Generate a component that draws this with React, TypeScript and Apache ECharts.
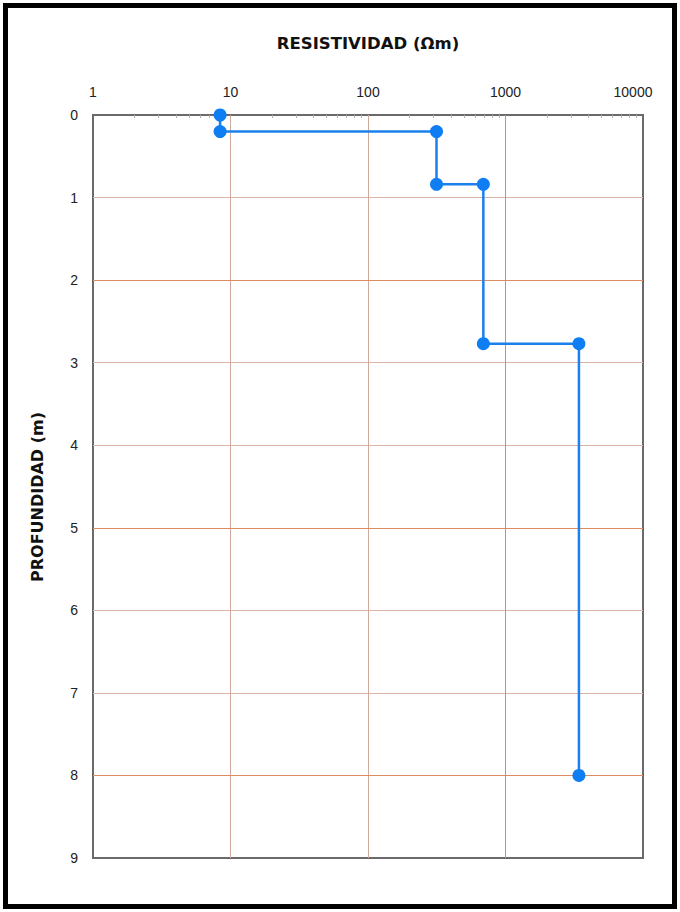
import React, { useEffect, useRef } from "react";
import * as echarts from "echarts";

const resistivity = [8.4, 8.4, 315, 315, 690, 690, 3420, 3420];
const depth = [0, 0.2, 0.2, 0.84, 0.84, 2.77, 2.77, 8.0];
const xMin = 1;
const xMax = 10000;
const yMin = 0;
const yMax = 9;
const minorTickValues = [
  2, 3, 4, 5, 6, 7, 8, 9,
  20, 30, 40, 50, 60, 70, 80, 90,
  200, 300, 400, 500, 600, 700, 800, 900,
  2000, 3000, 4000, 5000, 6000, 7000, 8000, 9000,
];
const strongXGrid = [1000];
const strongYGrid = [2, 5, 8];
const xTitle = "RESISTIVIDAD (Ωm)";
const yTitle = "PROFUNDIDAD (m)";

export default function App() {
  const ref = useRef<HTMLDivElement>(null);
  useEffect(() => {
    if (!ref.current) return;
    const chart = echarts.init(ref.current, null, { renderer: "svg" });
    const data = resistivity.map((r, i) => [r, depth[i]]);
    const strongLine = { color: "#dc8a60", width: 1, type: "solid" };
    chart.setOption({
      animation: false,
      backgroundColor: "#ffffff",
      grid: {
        left: 93,
        top: 115,
        right: 37,
        bottom: 54,
        show: true,
        borderColor: "#6a6a6a",
        borderWidth: 2,
        backgroundColor: "#ffffff",
      },
      xAxis: [
        {
          type: "log",
          logBase: 10,
          min: xMin,
          max: xMax,
          position: "top",
          axisLine: { show: false },
          axisTick: { show: false },
          axisLabel: {
            margin: 16,
            fontFamily: "Liberation Sans",
            fontSize: 14,
            color: "#222",
            formatter: (v: number) => (v === xMax ? "{last|" + v + "}" : String(v)),
            rich: {
              last: {
                fontFamily: "Liberation Sans",
                fontSize: 14,
                color: "#222",
                padding: [0, 20, 0, 0],
              },
            },
          },
          splitLine: {
            show: true,
            showMinLine: false,
            showMaxLine: false,
            lineStyle: { color: "#cfa99c", width: 1 },
          },
        },
        {
          type: "log",
          logBase: 10,
          min: xMin,
          max: xMax,
          position: "top",
          axisLine: { show: false },
          axisLabel: { show: false },
          splitLine: { show: false },
          axisTick: {
            show: true,
            inside: true,
            length: 3,
            customValues: minorTickValues,
            lineStyle: { color: "#b0b0b0", width: 1 },
          },
        },
      ],
      yAxis: {
        type: "value",
        inverse: true,
        min: yMin,
        max: yMax,
        interval: 1,
        axisLine: { show: false },
        axisTick: { show: false },
        axisLabel: {
          margin: 15,
          fontFamily: "Liberation Sans",
          fontSize: 14,
          color: "#222",
        },
        splitLine: {
          show: true,
          showMinLine: false,
          showMaxLine: false,
          lineStyle: { color: "#dcb4a4", width: 1 },
        },
      },
      series: [
        {
          type: "line",
          xAxisIndex: 0,
          data,
          symbol: "circle",
          symbolSize: 13,
          lineStyle: { color: "#1b80ec", width: 2.5 },
          itemStyle: { color: "#0f7ef2" },
          z: 5,
          markLine: {
            silent: true,
            symbol: ["none", "none"],
            label: { show: false },
            lineStyle: strongLine,
            z: 1,
            data: [
              ...strongXGrid.map((v) => ({ xAxis: v, lineStyle: strongLine })),
              ...strongYGrid.map((v) => ({ yAxis: v, lineStyle: strongLine })),
            ],
          },
        },
      ],
      graphic: [
        {
          type: "rect",
          shape: { x: 5.5, y: 5.5, width: 669, height: 901 },
          style: { fill: "none", stroke: "#000", lineWidth: 5 },
          silent: true,
        },
        {
          type: "text",
          x: 368,
          y: 43,
          style: {
            text: xTitle,
            fontFamily: "DejaVu Sans",
            fontWeight: "bold",
            fontSize: 16.5,
            fill: "#111",
            textAlign: "center",
            textVerticalAlign: "middle",
          },
        },
        {
          type: "text",
          x: 37,
          y: 497,
          rotation: Math.PI / 2,
          style: {
            text: yTitle,
            fontFamily: "DejaVu Sans",
            fontWeight: "bold",
            fontSize: 16,
            fill: "#111",
            textAlign: "center",
            textVerticalAlign: "middle",
          },
        },
      ],
    });
    return () => chart.dispose();
  }, []);
  return (
    <div
      ref={ref}
      style={{ position: "fixed", left: 0, top: 0, width: 680, height: 912 }}
    />
  );
}
